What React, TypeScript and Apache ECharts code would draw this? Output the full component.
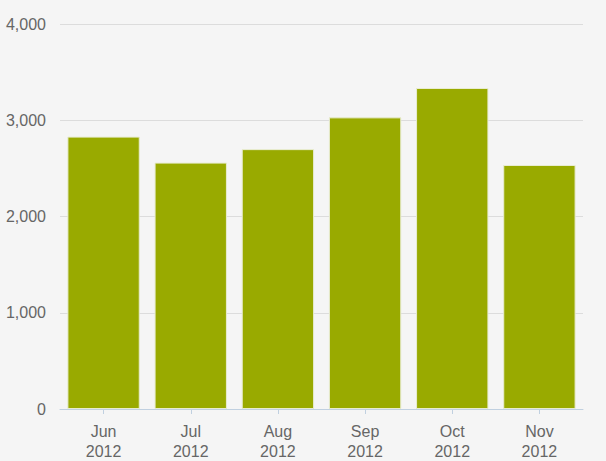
import React, { useEffect, useRef } from "react";
import * as echarts from "echarts";

const categories = ["Jun\n2012", "Jul\n2012", "Aug\n2012", "Sep\n2012", "Oct\n2012", "Nov\n2012"];
const values = [2830, 2560, 2700, 3030, 3335, 2535];
const yTicks = { min: 0, max: 4000, interval: 1000 };

export default function App() {
  const ref = useRef<HTMLDivElement>(null);
  useEffect(() => {
    if (!ref.current) return;
    const chart = echarts.init(ref.current, null, { renderer: "svg" });
    chart.setOption({
      animation: false,
      backgroundColor: "#f5f5f5",
      grid: { left: 60, right: 23, top: 24, bottom: 52, containLabel: false },
      xAxis: {
        type: "category",
        data: categories,
        axisLine: { show: true, lineStyle: { color: "#c0d0e0", width: 1 } },
        axisTick: { show: true, alignWithLabel: true, length: 5, lineStyle: { color: "#c0d0e0" } },
        axisLabel: {
          color: "#666666",
          fontFamily: "Liberation Sans, Arial, sans-serif",
          fontSize: 16,
          lineHeight: 20,
          margin: 12,
        },
      },
      yAxis: {
        type: "value",
        min: yTicks.min,
        max: yTicks.max,
        interval: yTicks.interval,
        axisLine: { show: false },
        axisTick: { show: false },
        splitLine: { lineStyle: { color: "#dcdcdc", width: 1 } },
        axisLabel: {
          color: "#666666",
          fontFamily: "Liberation Sans, Arial, sans-serif",
          fontSize: 16,
          margin: 14,
          formatter: (v: number) => v.toLocaleString("en-US"),
        },
      },
      series: [
        {
          type: "bar",
          data: values,
          barCategoryGap: "17%",
          itemStyle: { color: "#99aa00", borderColor: "#e8ecd0", borderWidth: 1 },
        },
      ],
    });
    return () => chart.dispose();
  }, []);
  return (
    <div
      ref={ref}
      style={{ position: "fixed", left: 0, top: 0, width: 606, height: 461 }}
    />
  );
}
